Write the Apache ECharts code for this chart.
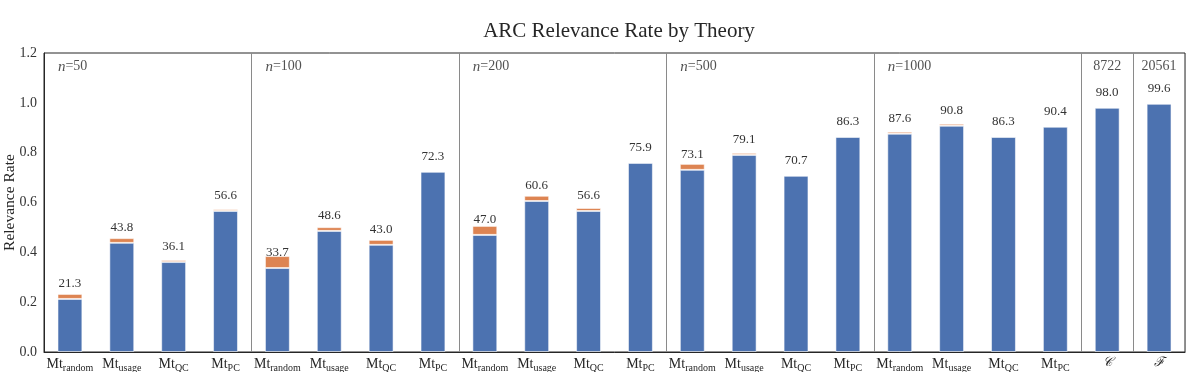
<!DOCTYPE html>
<html>
<head>
<meta charset="utf-8">
<script src="https://cdn.jsdelivr.net/npm/echarts@6/dist/echarts.min.js"></script>
<style>
  html, body { margin: 0; padding: 0; background: #fff; }
  #chart { width: 1196px; height: 372px; }
</style>
</head>
<body>
<div id="chart"></div>
<script>
// group headers and method names
var groupNames = ["n=50", "n=100", "n=200", "n=500", "n=1000"];
var methods = ["random", "usage", "QC", "PC"];
var extraNames = ["C", "F"];
var extraCounts = ["8722", "20561"];

// blue part (relevance rate)
var blue = [
  0.213, 0.438, 0.361, 0.566,
  0.337, 0.486, 0.430, 0.723,
  0.470, 0.606, 0.566, 0.759,
  0.731, 0.791, 0.707, 0.863,
  0.876, 0.908, 0.863, 0.904,
  0.980, 0.996
];
// orange part stacked on top (estimated from pixel heights)
var orange = [
  0.020, 0.019, 0.008, 0.007,
  0.048, 0.015, 0.020, 0.001,
  0.036, 0.021, 0.012, 0.001,
  0.024, 0.008, 0.000, 0.003,
  0.008, 0.008, 0.003, 0.004,
  0.000, 0.000
];

var FONT = "Liberation Serif";
var BLUE = "#4c72b0";
var ORANGE = "#dd8452";
var INK = "#262626";

// category keys: method|group index, then the two extra bars
var categories = [];
for (var g = 0; g < groupNames.length; g++) {
  for (var m = 0; m < methods.length; m++) {
    categories.push(methods[m] + "|" + g);
  }
}
categories.push(extraNames[0] + "|x", extraNames[1] + "|x");

// boundaries where a separator line is drawn
var separators = [4, 8, 12, 16, 20, 21];

// header texts placed through the axes
var headerData = [];
for (var g = 0; g < groupNames.length; g++) {
  headerData.push({
    value: [g * 4, 1.145],
    name: groupNames[g],
    label: { align: "left", offset: [-12, 0] }
  });
}
headerData.push({ value: [20, 1.145], name: extraCounts[0], label: { align: "center" } });
headerData.push({ value: [21, 1.145], name: extraCounts[1], label: { align: "center" } });

var chart = echarts.init(document.getElementById("chart"));

var option = {
  animation: false,
  textStyle: { fontFamily: FONT },
  title: {
    text: "ARC Relevance Rate by Theory",
    left: 614,
    textAlign: "center",
    top: 16,
    textStyle: { fontFamily: FONT, fontSize: 21, fontWeight: "normal", color: INK }
  },
  grid: {
    left: 44,
    right: 11,
    top: 53,
    bottom: 20,
    outerBoundsMode: "none",
    containLabel: false,
    show: true,
    borderColor: INK,
    borderWidth: 1
  },
  xAxis: {
    type: "category",
    data: categories,
    axisTick: { show: false },
    axisLine: { lineStyle: { color: INK, width: 1 } },
    splitLine: {
      show: true,
      interval: function (index) {
        return separators.indexOf(index) >= 0;
      },
      lineStyle: { color: "#8a8a8a", width: 1 }
    },
    axisLabel: {
      interval: 0,
      margin: 4,
      color: INK,
      formatter: function (v) {
        var key = v.split("|")[0];
        if (key === "C") return "{cal|𝒞}";
        if (key === "F") return "{cal|ℱ}";
        return "{mt|Mt}{sub|" + key + "}";
      },
      rich: {
        mt: { fontFamily: FONT, fontSize: 14, color: INK },
        sub: { fontFamily: FONT, fontSize: 10, color: INK, padding: [7, 0, 0, 0] },
        cal: { fontFamily: "DejaVu Serif", fontSize: 13, fontStyle: "italic", color: INK }
      }
    }
  },
  yAxis: {
    type: "value",
    min: 0,
    max: 1.2,
    interval: 0.2,
    name: "Relevance Rate",
    nameLocation: "middle",
    nameGap: 26,
    nameMoveOverlap: false,
    nameTextStyle: { fontFamily: FONT, fontSize: 15.5, color: INK },
    axisLine: { show: true, lineStyle: { color: INK } },
    axisTick: { show: false },
    splitLine: { show: false },
    axisLabel: {
      margin: 7,
      fontSize: 14,
      color: "#333",
      formatter: function (v) { return v.toFixed(1); }
    }
  },
  series: [
    {
      type: "bar",
      stack: "rate",
      data: blue,
      barWidth: "48%",
      itemStyle: { color: BLUE, borderColor: "rgba(255,255,255,0.55)", borderWidth: 1 },
      label: {
        show: true,
        position: "top",
        distance: 9,
        fontFamily: FONT,
        fontSize: 13,
        color: "#333",
        formatter: function (p) { return (p.value * 100).toFixed(1); }
      },
      z: 3
    },
    {
      type: "bar",
      stack: "rate",
      data: orange,
      barWidth: "48%",
      itemStyle: { color: ORANGE, borderColor: "rgba(255,255,255,0.55)", borderWidth: 1 },
      z: 2
    },
    {
      type: "scatter",
      symbolSize: 0,
      data: headerData,
      silent: true,
      label: {
        show: true,
        position: "inside",
        fontFamily: FONT,
        fontSize: 14,
        color: INK,
        formatter: function (p) {
          var n = p.name;
          if (n.indexOf("n=") === 0) return "{i|n}=" + n.slice(2);
          return n;
        },
        rich: {
          i: { fontFamily: FONT, fontStyle: "italic", fontSize: 15, color: INK }
        }
      }
    }
  ]
};

chart.setOption(option);
</script>
</body>
</html>
